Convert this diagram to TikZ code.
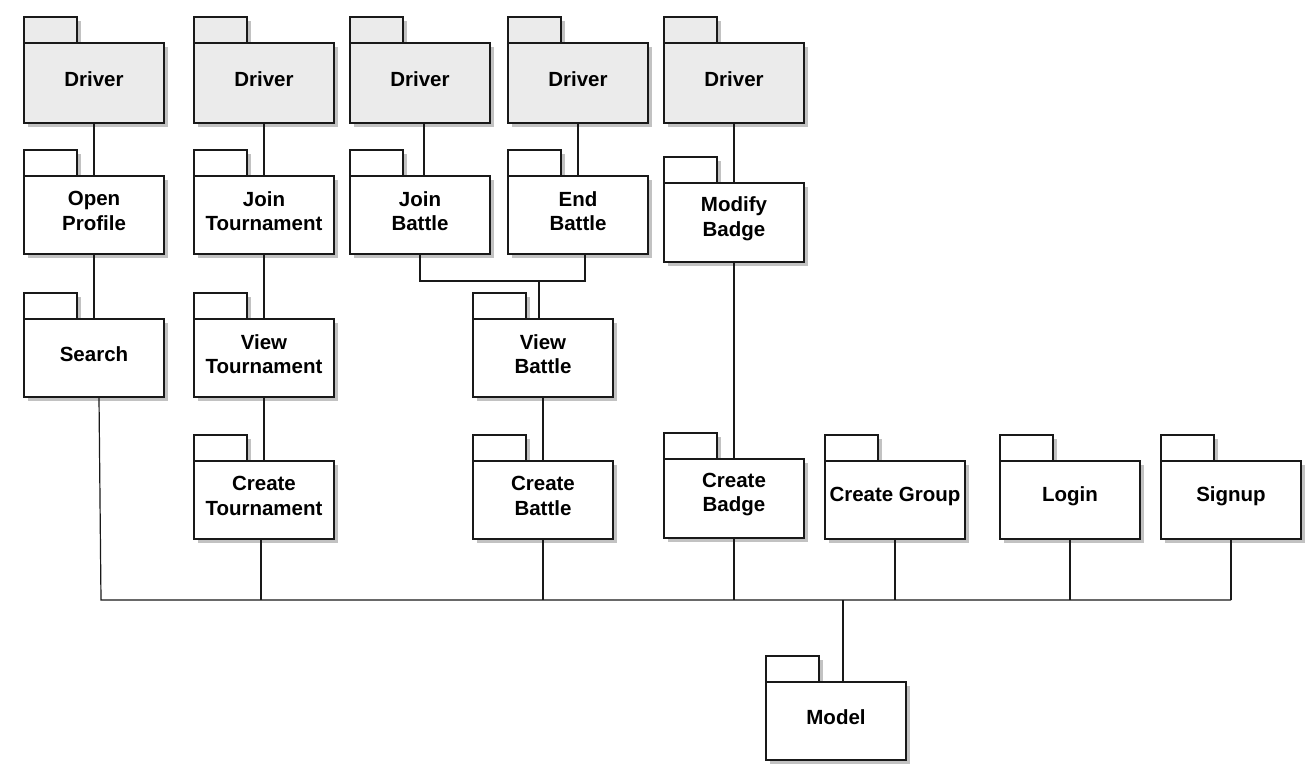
\documentclass[tikz,border=0pt]{standalone}
\usepackage{fontspec}
\setmainfont{Liberation Sans}
\begin{document}
\begin{tikzpicture}[x=1pt,y=-1pt,
  pkgshadow/.style={fill=black!24},
  pkgline/.style={draw=black!90,line width=1.4pt},
  pkgbody/.style={pkgline,rectangle,minimum width=140pt,inner sep=0pt,outer sep=0pt},
  pkgtext/.style={align=center,font=\fontsize{20.5}{24.5}\selectfont\bfseries,inner sep=0pt},
  conn/.style={draw=black!90,line width=1.2pt}]
\useasboundingbox[fill=white] (0,0) rectangle (1312,780);
\colorlet{drvfill}{black!8}
\newcommand\umlpkg[6]{% name, x, y(top of body), height, fill, text
  \fill[pkgshadow] (#2+4,#3-26+4) rectangle (#2+53+4,#3+4);
  \fill[pkgshadow] (#2+4,#3+4) rectangle (#2+140+4,#3+#4+4);
  \draw[pkgline,fill=#5] (#2,#3-26) rectangle (#2+53,#3);
  \node[pkgbody,fill=#5,minimum height=#4pt] (#1) at (#2+70,#3+#4/2) {};
  \node[pkgtext] (#1t) at ([yshift=4pt]#1.center) {#6};
}
% Drivers
\umlpkg{d1}{24}{43}{80}{drvfill}{Driver}
\umlpkg{d2}{194}{43}{80}{drvfill}{Driver}
\umlpkg{d3}{350}{43}{80}{drvfill}{Driver}
\umlpkg{d4}{508}{43}{80}{drvfill}{Driver}
\umlpkg{d5}{664}{43}{80}{drvfill}{Driver}
% second row
\umlpkg{op}{24}{176}{78}{white}{Open\\Profile}
\umlpkg{jt}{194}{176}{78}{white}{Join\\Tournament}
\umlpkg{jb}{350}{176}{78}{white}{Join\\Battle}
\umlpkg{eb}{508}{176}{78}{white}{End\\Battle}
\umlpkg{mb}{664}{183}{79}{white}{Modify\\Badge}
% third row
\umlpkg{se}{24}{319}{78}{white}{Search}
\umlpkg{vt}{194}{319}{78}{white}{View\\Tournament}
\umlpkg{vb}{473}{319}{78}{white}{View\\Battle}
% fourth row
\umlpkg{ct}{194}{461}{78}{white}{Create\\Tournament}
\umlpkg{cb}{473}{461}{78}{white}{Create\\Battle}
\umlpkg{cbd}{664}{459}{79}{white}{Create\\Badge}
\umlpkg{cg}{825}{461}{78}{white}{Create Group}
\umlpkg{lg}{1000}{461}{78}{white}{Login}
\umlpkg{su}{1161}{461}{78}{white}{Signup}
% model
\umlpkg{mo}{766}{682}{78}{white}{Model}
% bus coordinates
\coordinate (busL) at (101,600);
\coordinate (busR) at (1231,600);
\coordinate (hub) at (843,600);
\coordinate (bj) at (420,281);
% connectors
\draw[conn] (d1.south) -- (op.north);
\draw[conn] (op.south) -- (se.north);
\draw[conn] (d2.south) -- (jt.north);
\draw[conn] (jt.south) -- (vt.north);
\draw[conn] (vt.south) -- (ct.north);
\draw[conn] ([xshift=4pt]d3.south) -- ([xshift=4pt]jb.north);
\draw[conn] (d4.south) -- (eb.north);
\draw[conn] (jb.south) -- (bj) -| ([xshift=7pt]eb.south);
\draw[conn] ([xshift=-4pt]vb.north) -- ([xshift=-4pt]vb.north |- bj);
\draw[conn] (vb.south) -- (cb.north);
\draw[conn] (d5.south) -- (mb.north);
\draw[conn] (mb.south) -- (cbd.north);
\draw[conn] ([xshift=5pt]se.south) -- (busL) -- (busR);
\draw[conn] ([xshift=-3pt]ct.south) -- ([xshift=-3pt]ct.south |- busL);
\draw[conn] (cb.south) -- (cb.south |- busL);
\draw[conn] (cbd.south) -- (cbd.south |- busL);
\draw[conn] (cg.south) -- (cg.south |- busL);
\draw[conn] (lg.south) -- (lg.south |- busL);
\draw[conn] (su.south) -- (su.south |- busL);
\draw[conn,line width=2.4pt] (mo.north -| hub) -- (hub);
\end{tikzpicture}
\end{document}
